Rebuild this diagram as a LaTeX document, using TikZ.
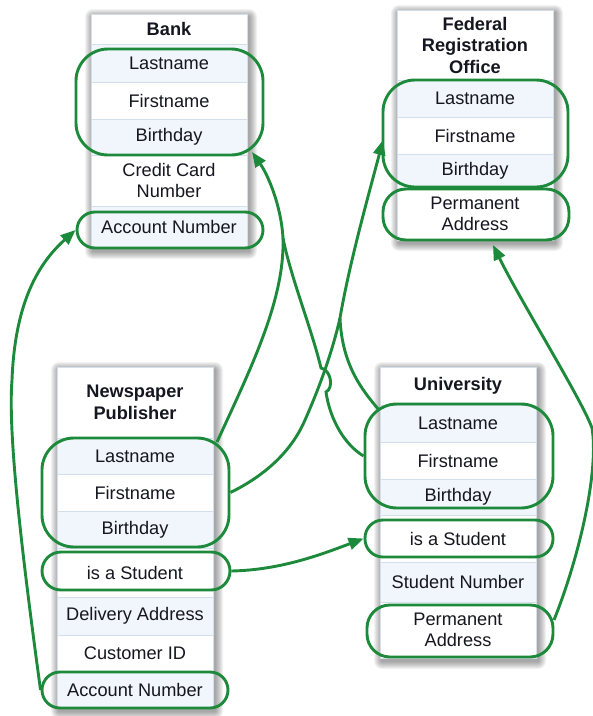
\documentclass[tikz,border=0pt]{standalone}
\usepackage{fontspec}
\setmainfont{Liberation Sans}
\usetikzlibrary{arrows.meta}
\definecolor{grn}{RGB}{28,138,58}
\definecolor{rowblue}{RGB}{240,246,251}
\definecolor{sepc}{RGB}{212,223,236}
\definecolor{txt}{RGB}{22,22,32}
\tikzset{
 row/.style={draw=sepc, line width=0.7pt, minimum width=156pt, inner sep=0pt, align=center, font=\fontsize{18.2}{21.5}\selectfont, text=txt},
 hdr/.style={row, fill=white, font=\bfseries\fontsize{18.2}{21.5}\selectfont},
 lite/.style={row, fill=rowblue},
 wht/.style={row, fill=white},
 grp/.style={draw=grn, line width=2.9pt, inner sep=0pt},
 conn/.style={draw=grn, line width=2.9pt},
 arr/.style={conn, -{Triangle[length=15pt,width=12pt]}},
}
\newcommand\tshadow[4]{\foreach \i in {1,...,8}{\fill[black,opacity=0.05,rounded corners=\i pt] (#1-\i+2,#2-\i+3) rectangle (#3+\i+2,#4+\i+3);}}
\begin{document}
\begin{tikzpicture}[x=1pt,y=-1pt]
\useasboundingbox (0,0) rectangle (593,716);
% shadows
\tshadow{91}{14}{247}{248}
\tshadow{397}{10}{553}{240}
\tshadow{57}{367}{213}{708}
\tshadow{380}{367}{536}{658}
% Bank
\node[hdr, minimum height=30pt] (bankH) at (169,29) {Bank};
\node[lite, minimum height=38pt] (bankL) at (169,63) {Lastname};
\node[wht, minimum height=37pt] (bankF) at (169,100.5) {Firstname};
\node[lite, minimum height=36pt] (bankB) at (169,137) {Birthday};
\node[wht, minimum height=51pt] (bankC) at (169,180.5) {Credit Card\\Number};
\node[lite, minimum height=42pt] (bankA) at (169,227) {Account Number};
% Federal Registration Office
\node[hdr, minimum height=70pt] (froH) at (475,45) {Federal\\Registration\\Office};
\node[lite, minimum height=37pt] (froL) at (475,98.5) {Lastname};
\node[wht, minimum height=37pt] (froF) at (475,135.5) {Firstname};
\node[lite, minimum height=34pt] (froB) at (475,171) {Birthday};
\node[wht, minimum height=52pt] (froP) at (475,214) {Permanent\\Address};
% Newspaper Publisher
\node[hdr, minimum height=71pt] (npH) at (135,402.5) {Newspaper\\Publisher};
\node[lite, minimum height=36pt] (npL) at (135,456) {Lastname};
\node[wht, minimum height=37pt] (npF) at (135,492.5) {Firstname};
\node[lite, minimum height=37pt] (npB) at (135,529.5) {Birthday};
\node[wht, minimum height=49pt] (npS) at (135,572.5) {is a Student};
\node[lite, minimum height=38pt] (npD) at (135,616) {Delivery Address};
\node[wht, minimum height=37pt] (npC) at (135,653.5) {Customer ID};
\node[lite, minimum height=36pt] (npA) at (135,690) {Account Number};
% University
\node[hdr, minimum height=38pt] (uniH) at (458,386) {University};
\node[lite, minimum height=37pt] (uniL) at (458,423.5) {Lastname};
\node[wht, minimum height=37pt] (uniF) at (458,460.5) {Firstname};
\node[lite, minimum height=36pt] (uniB) at (458,497) {Birthday};
\node[wht, minimum height=47pt] (uniS) at (458,538.5) {is a Student};
\node[lite, minimum height=40pt] (uniN) at (458,582) {Student Number};
\node[wht, minimum height=56pt] (uniP) at (458,630) {Permanent\\Address};
% groups
\node[grp, rounded corners=32pt, minimum width=187pt, minimum height=106pt] (bName) at (169.5,102) {};
\node[grp, rounded corners=18pt, minimum width=186pt, minimum height=36pt] (bAcct) at (170,230) {};
\node[grp, rounded corners=32pt, minimum width=185pt, minimum height=107pt] (fName) at (475.5,133.5) {};
\node[grp, rounded corners=23pt, minimum width=186pt, minimum height=51pt] (fAddr) at (476,214.5) {};
\node[grp, rounded corners=32pt, minimum width=187pt, minimum height=109pt] (nName) at (135.5,492.5) {};
\node[grp, rounded corners=19pt, minimum width=188pt, minimum height=38pt] (nStud) at (136,571) {};
\node[grp, rounded corners=18pt, minimum width=186pt, minimum height=36pt] (nAcct) at (135,690) {};
\node[grp, rounded corners=32pt, minimum width=188pt, minimum height=104pt] (uName) at (459,456) {};
\node[grp, rounded corners=18pt, minimum width=188pt, minimum height=37pt] (uStud) at (459,538.5) {};
\node[grp, rounded corners=23pt, minimum width=186pt, minimum height=52pt] (uAddr) at (460,631) {};
% connector points
\coordinate (mAB) at (283,238);
\coordinate (mCD) at (340,318);
\coordinate (nNameTR) at (217,442);
\coordinate (bNameBR) at (252,152);
\coordinate (uNameTL) at (379,410);
\coordinate (fNameL) at (383,140);
\coordinate (fAddrB) at (493,245);
\coordinate (uAddrR) at (554,620);
% connectors
\draw[conn] (nNameTR) .. controls (250,370) and (285,300) .. (mAB);
\draw[arr] (mAB) .. controls (281,205) and (268,175) .. (bNameBR);
\draw[conn] (nName.east) .. controls (260,478) and (290,455) .. (305,420) .. controls (325,375) and (335,340) .. (mCD);
\draw[arr] (mCD) .. controls (350,260) and (370,190) .. (fNameL);
\draw[conn] (uNameTL) .. controls (362,390) and (342,365) .. (mCD);
\draw[conn] (uName.west) .. controls (345,445) and (330,420) .. (326,392) .. controls (334,388) and (331,370) .. (321,368) .. controls (312,330) and (290,275) .. (mAB);
\draw[arr] (nStud.east) .. controls (280,570) and (320,555) .. (uStud.west);
\draw[arr] (nAcct.west) .. controls (20,540) and (8,430) .. (12,380) .. controls (15,300) and (40,262) .. (bAcct.west);
\draw[arr] (uAddrR) .. controls (580,555) and (599,470) .. (592,428) .. controls (582,400) and (520,300) .. (fAddrB);
\end{tikzpicture}
\end{document}
